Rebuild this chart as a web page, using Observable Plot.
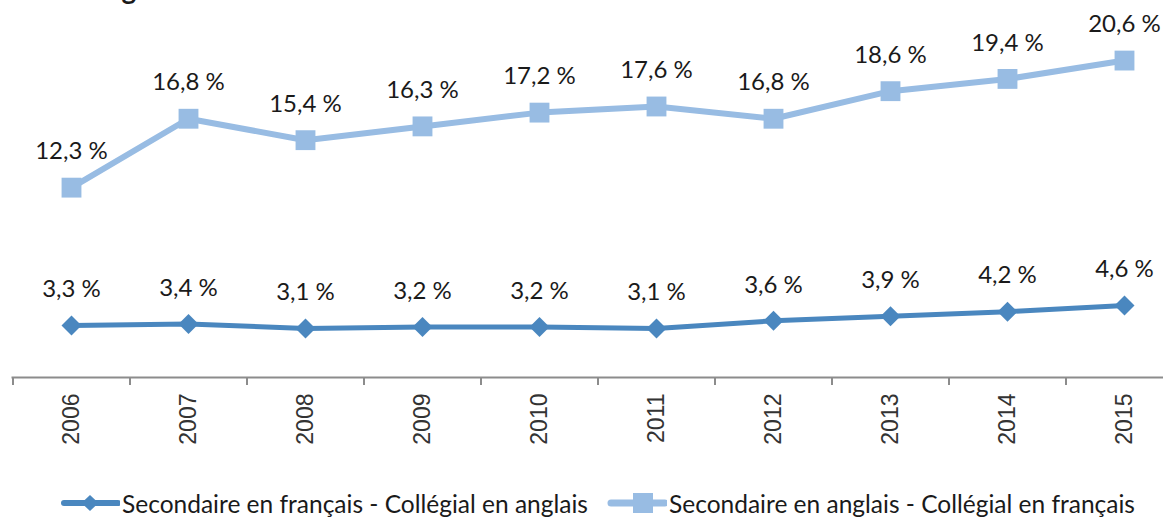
<!DOCTYPE html>
<html>
<head>
<meta charset="utf-8">
<script src="https://cdn.jsdelivr.net/npm/d3@7"></script>
<script src="https://cdn.jsdelivr.net/npm/@observablehq/plot@0.6"></script>
<style>
  html, body { margin: 0; padding: 0; background: #fff; width: 1163px; height: 518px; overflow: hidden; }
  #wrap { position: relative; width: 1163px; height: 518px; }
  #title { position: absolute; left: 7px; top: -27.5px; font: bold 28px Lato, sans-serif; color: #1a1a1a; line-height: 30px; white-space: nowrap; }
  #chart { position: absolute; left: 0; top: 0; }
  #legend { position: absolute; left: 0; top: 487px; width: 1163px; height: 32px; font-family: Lato, sans-serif; font-size: 24.5px; color: #1a1a1a; }
  .item { position: absolute; top: 0; height: 32px; display: flex; align-items: center; white-space: nowrap; }
  .item svg { margin-right: 2px; }
</style>
</head>
<body>
<div id="wrap">
  <div id="title">Autres régions</div>
  <div id="chart"></div>
  <div id="legend"></div>
</div>
<script>
const years = ["2006", "2007", "2008", "2009", "2010", "2011", "2012", "2013", "2014", "2015"];
const seriesNames = [
  "Secondaire en français - Collégial en anglais",
  "Secondaire en anglais - Collégial en français"
];
const seriesFrAng = [3.3, 3.4, 3.1, 3.2, 3.2, 3.1, 3.6, 3.9, 4.2, 4.6];
const seriesAngFr = [12.3, 16.8, 15.4, 16.3, 17.2, 17.6, 16.8, 18.6, 19.4, 20.6];
const colors = ["#4A87BF", "#98BCE3"];

const fmt = v => v.toFixed(1).replace(".", ",") + " %";
const dataA = years.map((y, i) => ({year: y, value: seriesFrAng[i]}));
const dataB = years.map((y, i) => ({year: y, value: seriesAngFr[i]}));

const step = (1182 - 12) / years.length;

const chart = Plot.plot({
  width: 1163,
  height: 470,
  marginLeft: 12,
  marginRight: 0,
  marginTop: 8,
  marginBottom: 93,
  style: {background: "transparent", overflow: "visible"},
  x: {type: "point", domain: years, range: [12 + step / 2, 1182 - step / 2], padding: 0},
  y: {domain: [-0.1, 24], axis: null},
  marks: [
    Plot.frame({anchor: "bottom", stroke: "#8c8c8c", strokeWidth: 2}),
    Plot.ruleX(years, {x: d => d, dx: -step / 2, y1: -0.1, y2: -0.62, stroke: "#8c8c8c", strokeWidth: 2}),
    Plot.axisX({tickSize: 0, tickRotate: -90, tickPadding: 16, fontSize: 23, fontFamily: "Liberation Sans, Arial, sans-serif", fill: "#333", label: null}),
    Plot.line(dataB, {x: "year", y: "value", stroke: colors[1], strokeWidth: 6}),
    Plot.dot(dataB, {x: "year", y: "value", symbol: "square", r: 11.2, fill: colors[1], stroke: null}),
    Plot.line(dataA, {x: "year", y: "value", stroke: colors[0], strokeWidth: 5}),
    Plot.dot(dataA, {x: "year", y: "value", symbol: "diamond2", r: 9, fill: colors[0], stroke: null}),
    Plot.text(dataB, {x: "year", y: "value", text: d => fmt(d.value), dy: -36, fontSize: 24, fontFamily: "Lato, sans-serif", fill: "#1a1a1a"}),
    Plot.text(dataA, {x: "year", y: "value", text: d => fmt(d.value), dy: -36, fontSize: 24, fontFamily: "Lato, sans-serif", fill: "#1a1a1a"})
  ]
});
document.getElementById("chart").appendChild(chart);

// legend
const legend = document.getElementById("legend");
const legendX = [60, 607];
const markers = [
  `<polygon points="30,8 38.5,16 30,24 21.5,16" fill="${colors[0]}"/>`,
  `<rect x="26" y="6" width="20" height="20" fill="${colors[1]}"/>`
];
const widths = [6, 7];
seriesNames.forEach((name, i) => {
  const item = document.createElement("div");
  item.className = "item";
  item.style.left = legendX[i] + "px";
  item.innerHTML = `<svg width="60" height="32"><line x1="4" y1="16" x2="58" y2="16" stroke="${colors[i]}" stroke-width="${widths[i]}" stroke-linecap="round"/>${markers[i]}</svg><span>${name}</span>`;
  legend.appendChild(item);
});
</script>
</body>
</html>
